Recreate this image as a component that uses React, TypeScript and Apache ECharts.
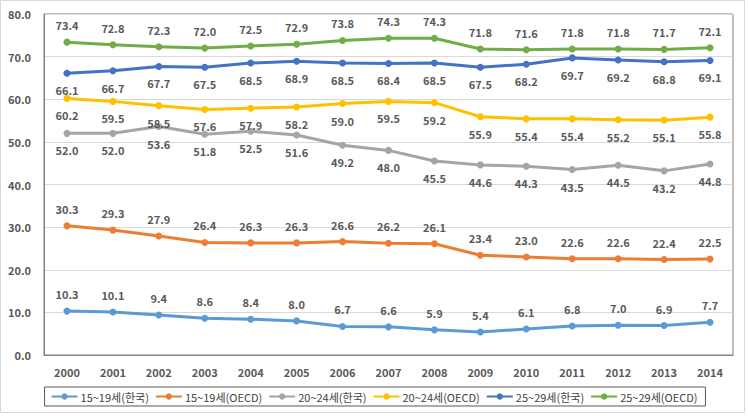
import React, { useEffect, useRef } from "react";
import * as echarts from "echarts";

const years = ["2000","2001","2002","2003","2004","2005","2006","2007","2008","2009","2010","2011","2012","2013","2014"];
const kr1519 = [10.3, 10.1, 9.4, 8.6, 8.4, 8.0, 6.7, 6.6, 5.9, 5.4, 6.1, 6.8, 7.0, 6.9, 7.7];
const oecd1519 = [30.3, 29.3, 27.9, 26.4, 26.3, 26.3, 26.6, 26.2, 26.1, 23.4, 23.0, 22.6, 22.6, 22.4, 22.5];
const kr2024 = [52.0, 52.0, 53.6, 51.8, 52.5, 51.6, 49.2, 48.0, 45.5, 44.6, 44.3, 43.5, 44.5, 43.2, 44.8];
const oecd2024 = [60.2, 59.5, 58.5, 57.6, 57.9, 58.2, 59.0, 59.5, 59.2, 55.9, 55.4, 55.4, 55.2, 55.1, 55.8];
const kr2529 = [66.1, 66.7, 67.7, 67.5, 68.5, 68.9, 68.5, 68.4, 68.5, 67.5, 68.2, 69.7, 69.2, 68.8, 69.1];
const oecd2529 = [73.4, 72.8, 72.3, 72.0, 72.5, 72.9, 73.8, 74.3, 74.3, 71.8, 71.6, 71.8, 71.8, 71.7, 72.1];

const seriesDefs = [
  { name: "15~19세(한국)", data: kr1519, color: "#5B9BD5", pos: "top" },
  { name: "15~19세(OECD)", data: oecd1519, color: "#ED7D31", pos: "top" },
  { name: "20~24세(한국)", data: kr2024, color: "#A5A5A5", pos: "bottom" },
  { name: "20~24세(OECD)", data: oecd2024, color: "#FFC000", pos: "bottom" },
  { name: "25~29세(한국)", data: kr2529, color: "#4472C4", pos: "bottom" },
  { name: "25~29세(OECD)", data: oecd2529, color: "#70AD47", pos: "top" },
];

const FONT = "'Noto Sans CJK KR', 'Noto Sans', sans-serif";

export default function App() {
  const ref = useRef<HTMLDivElement>(null);
  useEffect(() => {
    if (!ref.current) return;
    const chart = echarts.init(ref.current, null, { renderer: "svg" });
    chart.setOption({
      animation: false,
      backgroundColor: "#ffffff",
      textStyle: { fontFamily: FONT },
      graphic: [
        {
          type: "rect",
          shape: { x: 0.5, y: 0.5, width: 744, height: 412 },
          style: { fill: "none", stroke: "#d9d9d9", lineWidth: 1 },
          silent: true,
        },
      ],
      grid: {
        left: 44,
        right: 15,
        top: 14,
        bottom: 62,
        show: true,
        borderColor: "#808080",
        borderWidth: 1,
      },
      legend: {
        top: 387,
        left: "center",
        itemWidth: 26,
        itemHeight: 8,
        itemGap: 6,
        padding: [4, 8, 4, 6],
        borderColor: "#595959",
        borderWidth: 1,
        textStyle: { fontFamily: FONT, fontSize: 11, color: "#404040", padding: [0, 0, 0, -2] },
        data: seriesDefs.map((s) => s.name),
      },
      xAxis: {
        type: "category",
        data: years,
        boundaryGap: true,
        axisLine: { show: true, lineStyle: { color: "#808080" } },
        axisTick: { show: false },
        axisLabel: { fontFamily: FONT, fontSize: 11, fontWeight: "bold", color: "#595959", margin: 11 },
      },
      yAxis: {
        type: "value",
        min: 0,
        max: 80,
        interval: 10,
        axisLine: { show: true, lineStyle: { color: "#808080" } },
        axisTick: { show: false },
        splitLine: { lineStyle: { color: "#d9d9d9" } },
        axisLabel: {
          fontFamily: FONT,
          fontSize: 11,
          fontWeight: "bold",
          color: "#595959",
          margin: 13,
          formatter: (v: number) => v.toFixed(1),
        },
      },
      series: seriesDefs.map((s) => ({
        name: s.name,
        type: "line",
        data: s.data,
        symbol: "circle",
        symbolSize: 7,
        lineStyle: { color: s.color, width: 3 },
        itemStyle: { color: s.color },
        label: {
          show: true,
          position: s.pos,
          distance: 8,
          fontFamily: FONT,
          fontSize: 11,
          fontWeight: "bold",
          color: "#595959",
          formatter: (p: any) => Number(p.value).toFixed(1),
        },
      })),
    });
    return () => chart.dispose();
  }, []);
  return (
    <div
      ref={ref}
      style={{ position: "fixed", left: 0, top: 0, width: 748, height: 417 }}
    />
  );
}
